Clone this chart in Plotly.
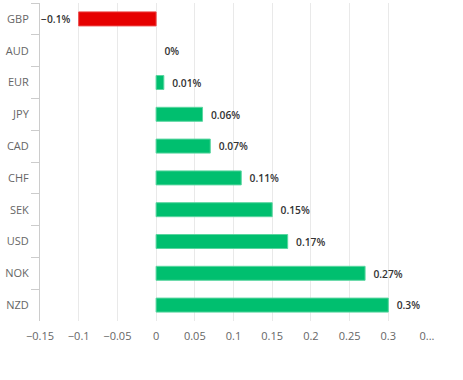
import plotly.graph_objects as go

currencies = ["GBP", "AUD", "EUR", "JPY", "CAD", "CHF", "SEK", "USD", "NOK", "NZD"]
changes = [-0.1, 0, 0.01, 0.06, 0.07, 0.11, 0.15, 0.17, 0.27, 0.3]
x_tick_values = [-0.15, -0.1, -0.05, 0, 0.05, 0.1, 0.15, 0.2, 0.25, 0.3, 0.35]
x_tick_labels = ["−0.15", "−0.1", "−0.05", "0", "0.05", "0.1", "0.15", "0.2", "0.25", "0.3", "0..."]

labels = [(f"{v:g}%  " if v < 0 else f"  {v:g}%").replace("-", "−") for v in changes]
colors = ["#e60000" if v < 0 else "#00bf6f" for v in changes]
line_colors = ["#ee4444" if v < 0 else "#5ad6a0" for v in changes]
line_widths = [0 if v == 0 else 1 for v in changes]

fig = go.Figure(go.Bar(
    x=changes, y=currencies, orientation="h",
    marker=dict(color=colors, line=dict(color=line_colors, width=line_widths)),
    width=0.44,
    text=labels, textposition="outside", cliponaxis=False,
    textfont=dict(family="Open Sans", size=11, color="#333333", weight=600),
    hoverinfo="none",
))

fig.update_layout(
    width=463, height=380,
    margin=dict(l=40, r=36, t=3, b=59),
    paper_bgcolor="white", plot_bgcolor="white",
    showlegend=False,
    font=dict(family="Open Sans", size=11, color="#666666"),
    xaxis=dict(
        range=[-0.15, 0.35], tickvals=x_tick_values, ticktext=x_tick_labels,
        showgrid=True, gridcolor="#e9e9e9", gridwidth=1,
        zeroline=False, showline=False, ticks="", automargin=False,
        ticklabelstandoff=7,
        tickfont=dict(size=11, color="#666666"),
    ),
    yaxis=dict(
        autorange="reversed", showline=True, linecolor="#cccccc", linewidth=1,
        ticks="outside", tickson="boundaries", ticklen=8, tickcolor="#cccccc",
        ticklabelstandoff=8,
        showgrid=False, automargin=False, tickfont=dict(size=11, color="#666666"),
    ),
)

fig.write_html("out.html", config={"displayModeBar": False},
               post_script="document.body.style.margin='0';")
